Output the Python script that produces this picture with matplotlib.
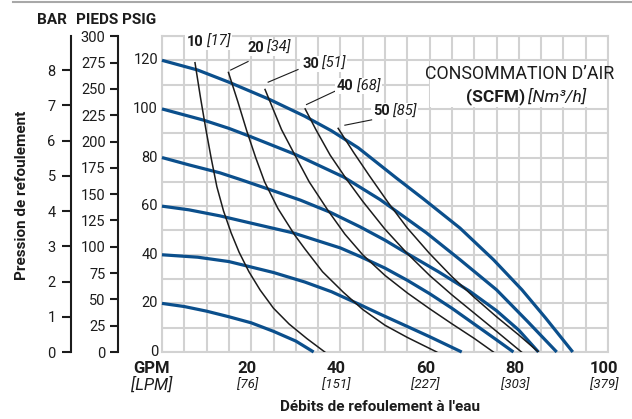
import numpy as np
import matplotlib.pyplot as plt
from matplotlib.patches import Rectangle

plt.rcParams['font.family'] = ['Roboto', 'DejaVu Sans']

# discharge pressure curves (PSIG) for each air inlet pressure, flow in GPM
p20_gpm = [0, 5, 10, 15, 20, 25, 30, 34]
p20_psi = [20, 18.7, 16.8, 14.5, 12, 8.5, 4.5, 0]

p40_gpm = [0, 8, 15, 25, 32, 38, 44, 49, 55, 60, 67.2]
p40_psi = [40, 39, 37.2, 32.7, 28.8, 24.8, 19.8, 15.5, 10.5, 6.3, 0]

p60_gpm = [0, 6, 13, 20, 29.4, 40, 44.4, 50, 55, 60, 65, 70, 75, 78.8]
p60_psi = [60, 58.5, 56, 53, 49, 42.8, 39.3, 34.5, 29.5, 24, 18, 11.5, 5, 0]

p80_gpm = [0, 6, 13, 17.5, 24.2, 31, 37.7, 44.4, 50, 55, 62, 69, 75, 80, 84.4]
p80_psi = [80, 77, 73.7, 71, 66.8, 62.5, 57.5, 51.5, 46, 40.5, 33, 25, 17, 9, 0]

p100_gpm = [0, 9.3, 15, 20, 30, 40.7, 48.9, 54, 59.3, 66.8, 75, 82, 88.5]
p100_psi = [100, 95.4, 92, 88.5, 81.2, 72, 62.7, 56, 49, 38, 25.6, 12.5, 0]

p120_gpm = [0, 8, 15, 24, 32, 38, 44, 52.6, 58.6, 66.8, 74.3, 80.7, 86, 92.1]
p120_psi = [120, 116, 111, 104, 97, 91, 84, 71.5, 63, 51, 38, 25.6, 14, 0]

# air consumption curves (SCFM)
a10_gpm = [7.4, 8.6, 9.8, 11, 12.3, 13.8, 15.5, 17.3, 19.5, 22, 25, 28.5, 32.5, 36.5]
a10_psi = [119, 105, 92, 80, 68, 58, 49, 41, 33, 25.5, 18, 11.5, 5.5, 0]

a20_gpm = [14.9, 17, 19, 21, 23, 26, 29.8, 32, 36, 40.7, 45, 50, 55, 61.6]
a20_psi = [115, 103, 91, 80, 70, 59, 48, 42.5, 33, 24.5, 17.5, 11, 6, 0]

a30_gpm = [23.1, 26.8, 29.8, 33, 37.3, 41, 45, 50, 55, 60, 65, 70, 74.3]
a30_psi = [108, 91.5, 81, 70, 58, 48.5, 40, 31.5, 24.3, 17.8, 11.6, 5.6, 0]

a40_gpm = [32.1, 34.5, 37.7, 41.4, 45, 50, 55, 60, 65, 70, 75, 80.6]
a40_psi = [100, 91.5, 81, 71, 62, 50.5, 40.5, 31.5, 23.5, 16, 8.5, 0]

a50_gpm = [39.5, 43, 46.5, 50.7, 55, 60, 65, 70, 75, 80, 84.4]
a50_psi = [92, 82, 72.5, 61.5, 51, 40.5, 31, 22.5, 14.5, 7, 0]

scfm = [10, 20, 30, 40, 50]
nm3h = [17, 34, 51, 68, 85]
label_gpm = [5.6, 19.1, 31.4, 39.2, 47.3]
label_psi = [125.8, 123.3, 116.7, 107.6, 97.3]
# leader lines (from curve top to label)
lead_gpm = [None, (15.4, 19.3), (23.8, 30.5), (32.4, 38.8), (41, 47)]
lead_psi = [None, (116, 119.5), (111, 116.2), (101.8, 107.3), (93.3, 95.5)]

gpm_ticks = [20, 40, 60, 80, 100]
lpm_ticks = [76, 151, 227, 303, 379]
psi_ticks = [0, 20, 40, 60, 80, 100, 120]
ft_ticks = list(range(0, 301, 25))
bar_ticks = list(range(0, 9))

blue = '#0b4f8c'
dark = '#1c1c1c'
gridc = '#d2d2d2'

W, H = 632, 419
fig = plt.figure(figsize=(W / 100, H / 100), dpi=100)
ax = fig.add_axes([162 / W, 67 / H, 446 / W, 316 / H])
ax.set_xlim(0, 100)
ax.set_ylim(0, 130)

# grid
ax.set_xticks(np.arange(0, 101, 5))
ax.set_yticks(np.arange(0, 131, 10))
ax.grid(True, color=gridc, linewidth=1.5)
ax.set_axisbelow(True)
for s in ax.spines.values():
    s.set_color(gridc)
    s.set_linewidth(1.5)
ax.tick_params(length=0, labelbottom=False, labelleft=False)

for t in psi_ticks:
    ax.annotate(str(t), xy=(0, t), xytext=(-4, 0), textcoords='offset pixels',
                ha='right', va='center', fontsize=10.5, color=dark)

# white box behind air consumption title
ax.add_patch(Rectangle((60.1, 100.6), 40, 19, facecolor='white', edgecolor='none', zorder=1))
ax.text(80.2, 114.4, 'CONSOMMATION D’AIR', ha='center', va='center', fontsize=12.8, color=dark, zorder=3)
ax.text(81.4, 105.0, '(SCFM)', ha='right', va='center', fontsize=12.5, fontweight='bold', color=dark, zorder=3)
ax.text(82.0, 105.0, '[Nm³/h]', ha='left', va='center', fontsize=12.5, fontstyle='italic', color=dark, zorder=3)

for xs, ys in [(p20_gpm, p20_psi), (p40_gpm, p40_psi), (p60_gpm, p60_psi),
               (p80_gpm, p80_psi), (p100_gpm, p100_psi), (p120_gpm, p120_psi)]:
    ax.plot(xs, ys, color=blue, linewidth=2.3, solid_capstyle='butt',
            solid_joinstyle='round', zorder=3, clip_on=False)

for xs, ys in [(a10_gpm, a10_psi), (a20_gpm, a20_psi), (a30_gpm, a30_psi),
               (a40_gpm, a40_psi), (a50_gpm, a50_psi)]:
    ax.plot(xs, ys, color=dark, linewidth=1.1, solid_joinstyle='round', zorder=4)

# curve labels: bold SCFM value followed by italic Nm3/h value
fig.canvas.draw()
renderer = fig.canvas.get_renderer()
for i in range(len(scfm)):
    if lead_gpm[i] is not None:
        ax.plot(lead_gpm[i], lead_psi[i], color=dark, linewidth=0.8, zorder=4)
    bold = ax.text(label_gpm[i], label_psi[i], str(scfm[i]), ha='left', va='baseline',
                   fontsize=10.5, fontweight='bold', color=dark, zorder=6)
    x1 = bold.get_window_extent(renderer).x1
    y0 = ax.transData.transform((label_gpm[i], label_psi[i]))[1]
    ix, iy = ax.transData.inverted().transform((x1 + 3, y0))
    ital = ax.text(ix, iy, '[%d]' % nm3h[i], ha='left', va='baseline',
                   fontsize=10.5, fontstyle='italic', color=dark, zorder=6)
    b0 = bold.get_window_extent(renderer)
    b1 = ital.get_window_extent(renderer)
    (bx0, by0), (bx1, by1) = ax.transData.inverted().transform(
        [(b0.x0 - 2, min(b0.y0, b1.y0) - 1), (b1.x1 + 2, max(b0.y1, b1.y1) + 1)])
    ax.add_patch(Rectangle((bx0, by0), bx1 - bx0, by1 - by0, facecolor='white',
                           edgecolor='none', zorder=5, clip_on=False))

# x tick labels
for g, l in zip(gpm_ticks, lpm_ticks):
    ax.annotate(str(g), xy=(g, 0), xytext=(-4, -16), textcoords='offset pixels',
                ha='center', va='center', fontsize=12, fontweight='bold', color=dark,
                annotation_clip=False)
    ax.annotate('[%d]' % l, xy=(g, 0), xytext=(-4, -33), textcoords='offset pixels',
                ha='center', va='center', fontsize=9.5, fontstyle='italic', color=dark,
                annotation_clip=False)
ax.annotate('GPM', xy=(0, 0), xytext=(-10, -16), textcoords='offset pixels',
            ha='center', va='center', fontsize=12, fontweight='bold', color=dark, annotation_clip=False)
ax.annotate('[LPM]', xy=(0, 0), xytext=(-10, -33), textcoords='offset pixels',
            ha='center', va='center', fontsize=12, fontstyle='italic', color=dark, annotation_clip=False)

# feet axis
ax_ft = fig.add_axes([118 / W, 67 / H, 0.001, 316 / H])
ax_ft.set_ylim(0, 130 * 2.31)
ax_ft.set_yticks(ft_ticks)
ax_ft.patch.set_visible(False)
ax_ft.get_xaxis().set_visible(False)
for k in ['right', 'top', 'bottom']:
    ax_ft.spines[k].set_visible(False)
ax_ft.spines['left'].set_bounds(0, 300)
ax_ft.spines['left'].set_linewidth(1.5)
ax_ft.spines['left'].set_color(dark)
ax_ft.tick_params(axis='y', direction='out', length=6, width=1.5, pad=3, labelsize=10.5, color=dark, labelcolor=dark)

# bar axis
ax_bar = fig.add_axes([71 / W, 67 / H, 0.001, 316 / H])
ax_bar.set_ylim(0, 130 / 14.5)
ax_bar.set_yticks(bar_ticks)
ax_bar.patch.set_visible(False)
ax_bar.get_xaxis().set_visible(False)
for k in ['right', 'top', 'bottom']:
    ax_bar.spines[k].set_visible(False)
ax_bar.spines['left'].set_linewidth(1.5)
ax_bar.spines['left'].set_color(dark)
ax_bar.tick_params(axis='y', direction='out', length=6.5, width=1.5, pad=4.5, labelsize=10.5, color=dark, labelcolor=dark)

# headers and titles
fig.text(37 / W, 1 - 20 / H, 'BAR', ha='left', va='center', fontsize=11, fontweight='bold', color=dark)
fig.text(76 / W, 1 - 20 / H, 'PIEDS PSIG', ha='left', va='center', fontsize=11, fontweight='bold', color=dark)
fig.text(22 / W, 1 - 195 / H, 'Pression de refoulement', rotation=90, ha='center', va='center',
         fontsize=11, fontweight='bold', color=dark)
fig.text(380 / W, 1 - 407 / H, "Débits de refoulement à l'eau", ha='center', va='center',
         fontsize=11, fontweight='bold', color=dark)
fig.add_artist(plt.Line2D([13 / W, 1], [1 - 2 / H, 1 - 2 / H], color='#a8a8a8', linewidth=1.5))

fig.savefig('out.png', dpi=100)
